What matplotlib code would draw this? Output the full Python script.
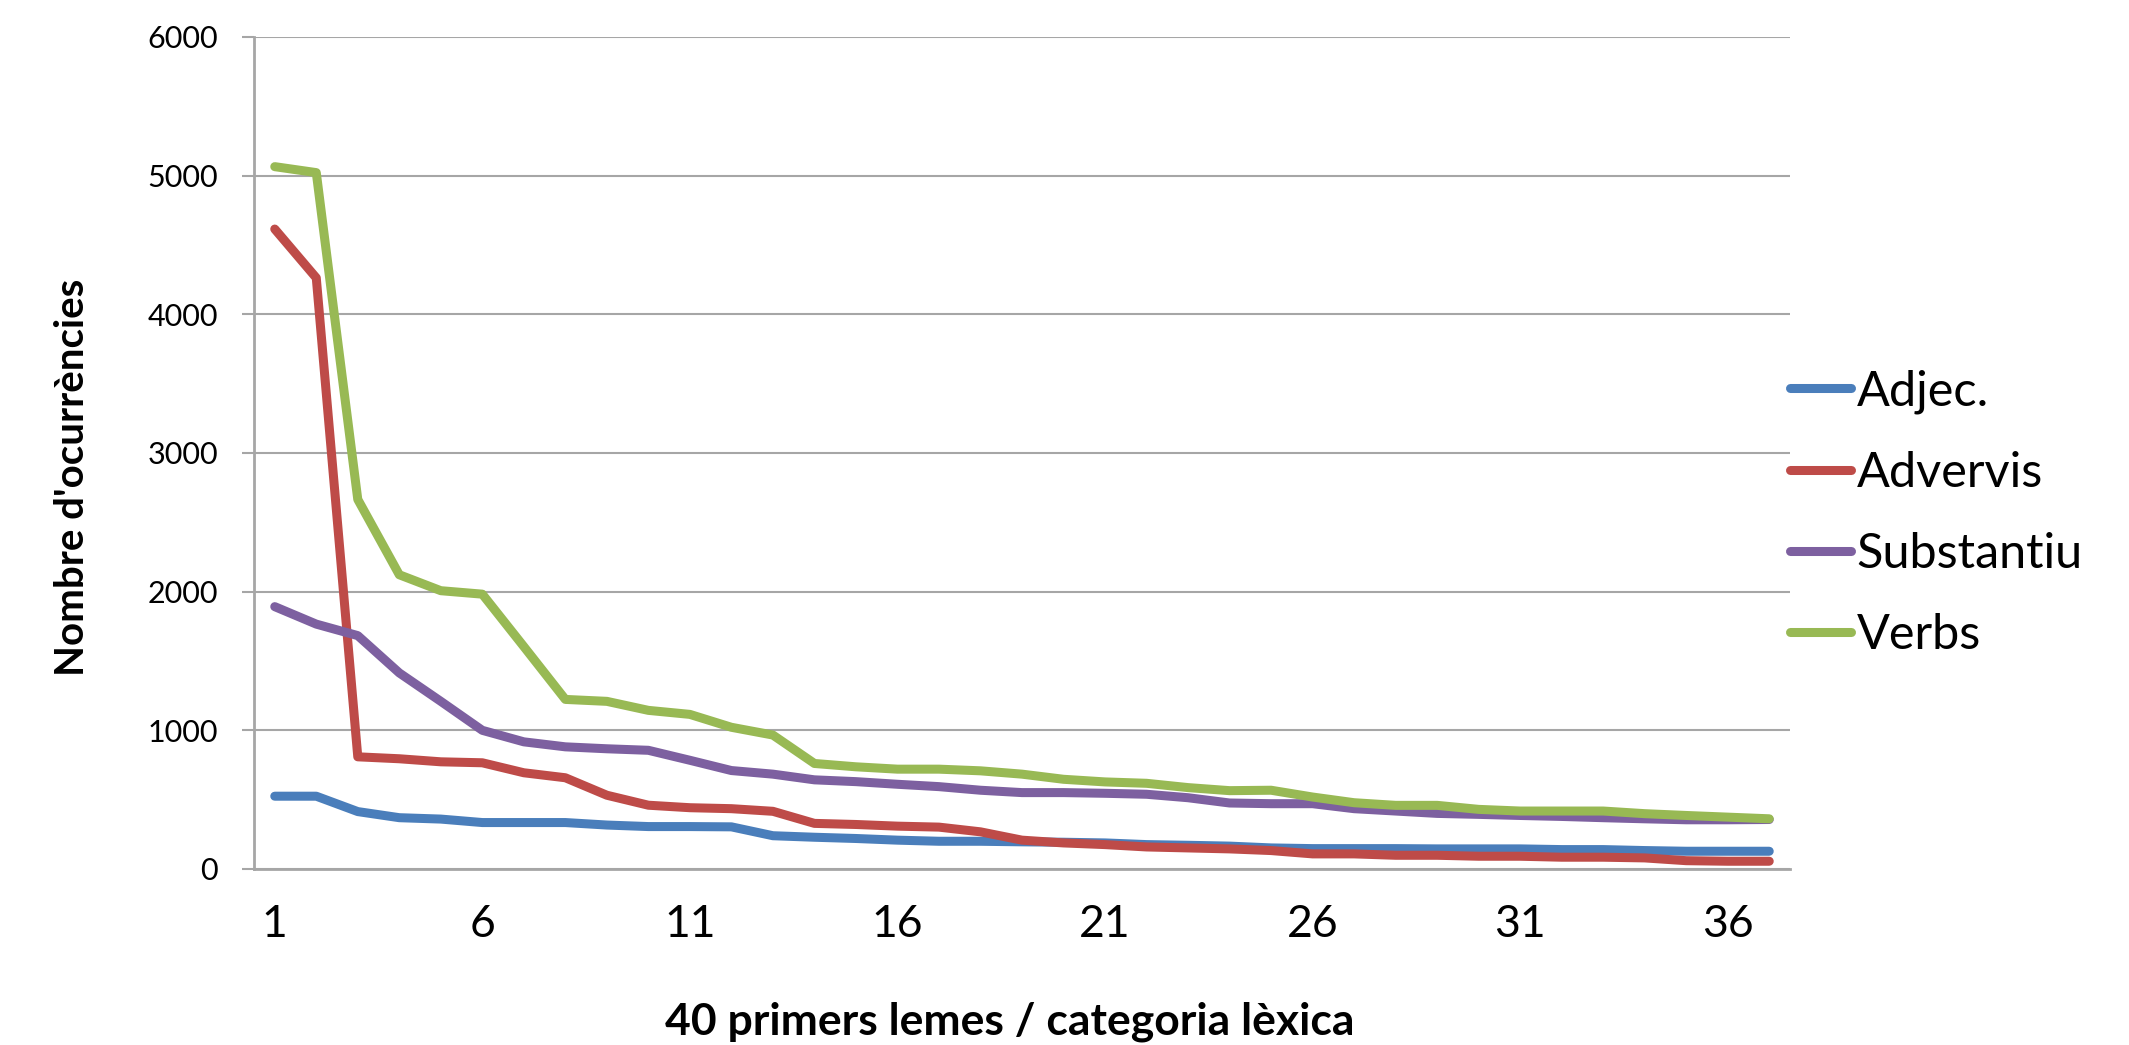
import numpy as np
import matplotlib
matplotlib.use("Agg")
import matplotlib.pyplot as plt

plt.rcParams['font.family'] = ['Lato', 'DejaVu Sans']

# values
lemes = np.arange(1, 38)
adjec = [525, 525, 414, 370, 360, 335, 335, 335, 317, 306, 306, 304, 240, 229, 220, 208, 200, 200,
         196, 193, 188, 176, 171, 165, 152, 147, 147, 147, 145, 145, 145, 140, 140, 133, 128, 128, 128]
advervis = [4615, 4263, 809, 795, 773, 766, 694, 658, 532, 460, 442, 435, 416, 329, 321, 309, 302, 268,
            208, 188, 176, 159, 152, 145, 133, 109, 109, 99, 99, 92, 92, 85, 85, 80, 60, 56, 56]
substantiu = [1892, 1766, 1683, 1414, 1209, 1000, 917, 881, 867, 856, 784, 710, 684, 643, 630, 611, 594, 568,
              551, 551, 546, 539, 514, 476, 471, 471, 435, 418, 401, 394, 386, 379, 370, 362, 355, 355, 357]
verbs = [5065, 5022, 2665, 2122, 2007, 1982, 1604, 1223, 1209, 1144, 1115, 1022, 966, 761, 737, 720, 720, 708,
         684, 647, 628, 618, 587, 565, 568, 519, 478, 459, 459, 430, 418, 418, 418, 399, 386, 374, 362]

series = [("Adjec.", adjec, "#4A7EBB"),
          ("Advervis", advervis, "#BE4B48"),
          ("Substantiu", substantiu, "#7D60A0"),
          ("Verbs", verbs, "#98B954")]

W, H = 2129, 1045
fig = plt.figure(figsize=(W/100, H/100), dpi=100)
ax = fig.add_axes([254/W, 1-869/H, (1790-254)/W, (869-37)/H])

for name, vals, col in series:
    ax.plot(lemes, vals, color=col, lw=6.5, label=name, solid_capstyle='round',
            solid_joinstyle='round', zorder=3)

ax.set_xlim(0.5, 37.5)
ax.set_ylim(0, 6000)
ax.set_yticks(np.arange(0, 6001, 1000))
ax.set_xticks(np.arange(1, 38, 5))
ax.yaxis.grid(True, color='#A6A6A6', lw=1.5, zorder=0)
ax.set_axisbelow(True)
for s in ['top', 'right']:
    ax.spines[s].set_visible(False)
for s in ['left', 'bottom']:
    ax.spines[s].set_color('#A6A6A6')
    ax.spines[s].set_linewidth(2)

ax.tick_params(axis='y', length=9, width=1.5, color='#A6A6A6', pad=17, labelsize=22)
ax.tick_params(axis='x', length=0, pad=25, labelsize=32)

# axis titles placed in figure pixels
fig.text(73/W, 1-477/H, "Nombre d'ocurrències", rotation=90, ha='center', va='center',
         fontsize=29, fontweight='bold')
fig.text(1010/W, 1-1022/H, "40 primers lemes / categoria lèxica", ha='center', va='center',
         fontsize=32, fontweight='bold')

fig.legend(loc='center left', bbox_to_anchor=(1790/W, 1-513/H), frameon=False,
           fontsize=35, handlelength=1.25, handletextpad=0.12, labelspacing=0.76, borderpad=0,
           borderaxespad=0)

fig.savefig("out.png", dpi=100)
